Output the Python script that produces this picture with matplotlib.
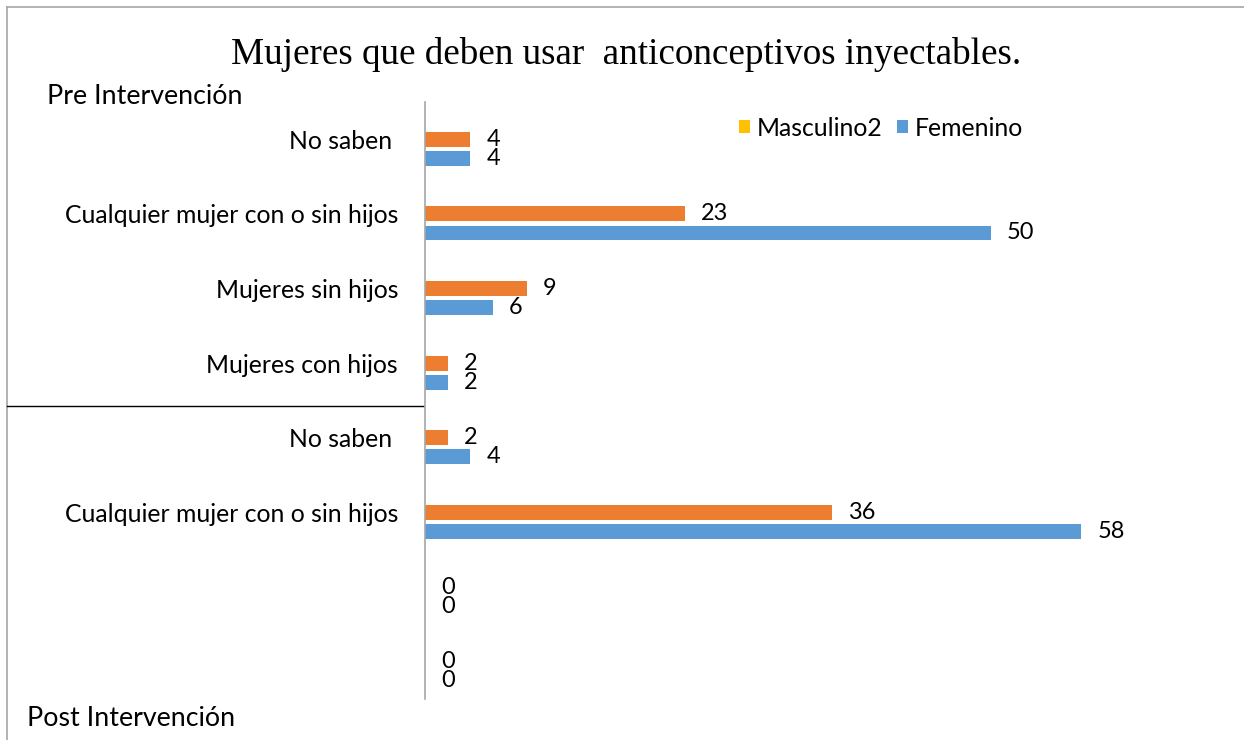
import matplotlib
matplotlib.use("Agg")
import matplotlib.pyplot as plt
from matplotlib.lines import Line2D
import numpy as np

plt.rcParams['font.family'] = ['Lato', 'DejaVu Sans']

categories = ["No saben ", "Cualquier mujer con o sin hijos", "Mujeres sin hijos",
              "Mujeres con hijos", "No saben ", "Cualquier mujer con o sin hijos", "", ""]
masculino2 = [0, 0, 0, 0, 0, 0, 0, 0]          # empty series (shown only in legend)
orange_vals = [4, 23, 9, 2, 2, 36, 0, 0]
femenino = [4, 50, 6, 2, 4, 58, 0, 0]

title = "Mujeres que deben usar  anticonceptivos inyectables."
pre_label = "Pre Intervención"
post_label = "Post Intervención"

C_YEL = "#FFC000"
C_ORA = "#ED7D31"
C_BLU = "#5B9BD5"

W, H = 1244, 740
fig = plt.figure(figsize=(W / 100, H / 100), dpi=100)

ax_left, ax_top, ax_bot = 425, 102, 699
ax = fig.add_axes([ax_left / W, 1 - ax_bot / H, (1217 - ax_left) / W, (ax_bot - ax_top) / H])

y = np.arange(len(categories))
step = 0.255
hgt = 0.2
b_y = ax.barh(y - step, masculino2, height=hgt, color=C_YEL, linewidth=0, label="Masculino2")
b_o = ax.barh(y, orange_vals, height=hgt, color=C_ORA, linewidth=0)
b_b = ax.barh(y + step, femenino, height=hgt, color=C_BLU, linewidth=0, label="Femenino")

for bars, vals in ((b_o, orange_vals), (b_b, femenino)):
    for rect, v in zip(bars, vals):
        ax.annotate(str(v), (v, rect.get_y() + rect.get_height() / 2),
                    xytext=(11.5, 0), textcoords="offset points",
                    ha="left", va="center", fontsize=16.9, color="#000000")

ax.set_xlim(0, 70)
ax.set_ylim(len(categories) - 0.5, -0.5)
ax.set_yticks(y)
ax.set_yticklabels(categories, fontsize=17.8)
ax.tick_params(axis="y", length=0, pad=19.4)
ax.set_xticks([])
for s in ("top", "right", "bottom"):
    ax.spines[s].set_visible(False)
ax.spines["left"].set_color("#A6A6A6")
ax.spines["left"].set_linewidth(1.2)

fig.text(626 / W, 1 - 55 / H, title, ha="center", va="center",
         fontsize=26.7, family="Liberation Serif")
fig.text(47 / W, 1 - 96 / H, pre_label, ha="left", va="center", fontsize=19.3)
fig.text(27 / W, 1 - 718 / H, post_label, ha="left", va="center", fontsize=19.3)

# frame and separator lines
fig.add_artist(Line2D([7 / W, 1], [1 - 7 / H, 1 - 7 / H], color="#A6A6A6", lw=1.2))
fig.add_artist(Line2D([7 / W, 7 / W], [1 - 7 / H, 0], color="#A6A6A6", lw=1.2))
fig.add_artist(Line2D([7 / W, 423 / W], [1 - 406 / H, 1 - 406 / H], color="black", lw=1.0))

fig.legend(handles=[b_y, b_b], labels=["Masculino2", "Femenino"], loc="center left",
           bbox_to_anchor=(727 / W, 1 - 128 / H), ncol=2, frameon=False,
           fontsize=17.8, handlelength=0.45, handleheight=0.45, handletextpad=0.25,
           columnspacing=0.6, borderpad=0)

fig.savefig("out.png", dpi=100)
